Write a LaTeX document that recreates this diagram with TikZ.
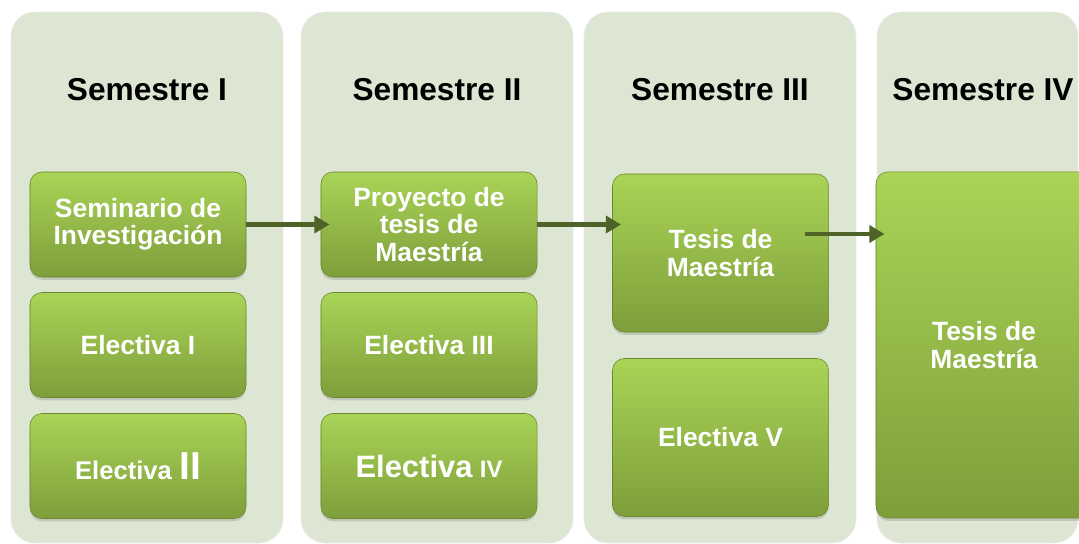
\documentclass[tikz,border=0pt]{standalone}
\usepackage{fontspec}
\setmainfont{Liberation Sans}
\usetikzlibrary{arrows.meta,shadows}
\definecolor{fondo}{HTML}{DDE6D2}
\definecolor{verdeclaro}{HTML}{A9D456}
\definecolor{verdeoscuro}{HTML}{7E9E3B}
\definecolor{borde}{HTML}{6A872D}
\definecolor{flechacolor}{HTML}{4F6228}
\tikzset{
    panel/.style = {fill = fondo, draw = black!8, rounded corners = 0.6cm},
    titulo/.style = {font = \fontsize{22.5}{26}\selectfont\bfseries},
    caja/.style = {rounded corners = 0.3cm, top color = verdeclaro, bottom color = verdeoscuro,
        draw = borde, align = center, text = white, minimum width = 5.4cm,
        font = \fontsize{18.8}{19.5}\selectfont\bfseries,
        drop shadow = {shadow xshift = 0pt, shadow yshift = -2pt, opacity = 0.3}},
    flecha/.style = {draw = flechacolor, line width = 2.85pt, shorten > = -0.22cm,
        -{Triangle[length = 0.375cm, width = 0.42cm]}}
}
\begin{document}
\begin{tikzpicture}[x = 0.025cm, y = -0.025cm]
    \useasboundingbox (0,0) rectangle (1079,544);
    \clip (0,0) rectangle (1079,544);
    % columnas
    \foreach \x in {11, 301, 584} {
        \fill[panel] (\x,12) rectangle ++(272,531);
    }
    \fill[panel] (877,12) rectangle (1078,543);
    \foreach \x/\t/\n in {147/I/s1, 437/II/s2, 720/III/s3, 983/IV/s4} {
        \node[titulo] (\n) at (\x,90) {Semestre \t};
    }
    % semestre I
    \node[caja, minimum height = 2.625cm] (sem) at (138,224.5) {Seminario de\\Investigación};
    \node[caja, minimum height = 2.625cm] (ele1) at (138,345) {Electiva I};
    \node[caja, minimum height = 2.625cm] (ele2) at (138,466) {{\fontsize{18.2}{19}\selectfont Electiva} {\fontsize{27.7}{28}\selectfont II}};
    % semestre II
    \node[caja, minimum height = 2.625cm] (pro) at (429,224.5) {Proyecto de\\tesis de\\Maestría};
    \node[caja, minimum height = 2.625cm] (ele3) at (429,345) {Electiva III};
    \node[caja, minimum height = 2.625cm] (ele4) at (429,466) {{\fontsize{22}{24}\selectfont Electiva} {\fontsize{17}{18}\selectfont IV}};
    % semestre III
    \node[caja, minimum height = 3.95cm] (tes) at (720.5,253) {Tesis de\\Maestría};
    \node[caja, minimum height = 3.95cm] (ele5) at (720.5,437.5) {Electiva V};
    % semestre IV
    \node[caja, minimum height = 8.65cm] (tesis) at (984,345) {Tesis de\\Maestría};
    % flechas
    \coordinate (a3) at (805,234);
    \draw[flecha] (sem.east) -- (sem.east -| pro.west);
    \draw[flecha] (pro.east) -- (pro.east -| tes.west);
    \draw[flecha] (a3) -- (a3 -| tesis.west);
\end{tikzpicture}
\end{document}
